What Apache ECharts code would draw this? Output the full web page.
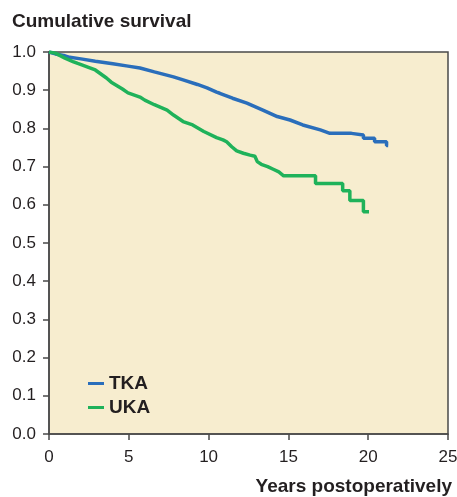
<!DOCTYPE html>
<html>
<head>
<meta charset="utf-8">
<script src="https://cdn.jsdelivr.net/npm/echarts@6/dist/echarts.min.js"></script>
<style>
html,body{margin:0;padding:0;background:#fff;}
#c{width:457px;height:497px;}
</style>
</head>
<body>
<div id="c"></div>
<script>
var xTicks = [0, 5, 10, 15, 20, 25];
var yTicks = [0.0, 0.1, 0.2, 0.3, 0.4, 0.5, 0.6, 0.7, 0.8, 0.9, 1.0];

var tkaYears = [0, 0.4, 1.0, 1.3, 2.0, 2.9, 4.0, 4.95, 5.7, 6.6, 7.8, 8.4, 9.3, 9.9, 10.5, 10.7, 11.5, 12.4, 13.4, 14.3, 15.1, 15.9, 17.0, 17.6, 18.95, 18.95, 19.7, 19.7, 20.4, 20.4, 21.15, 21.15, 21.25];
var tkaSurvival = [1.0, 0.995, 0.990, 0.986, 0.982, 0.976, 0.969, 0.963, 0.958, 0.948, 0.935, 0.927, 0.915, 0.906, 0.895, 0.892, 0.879, 0.866, 0.848, 0.831, 0.822, 0.809, 0.796, 0.787, 0.787, 0.783, 0.783, 0.774, 0.774, 0.765, 0.765, 0.755, 0.755];

var ukaYears = [0, 0.4, 1.0, 1.5, 1.8, 2.6, 2.9, 3.6, 3.9, 4.6, 4.95, 5.7, 6.0, 6.6, 7.4, 7.8, 8.4, 9.0, 9.7, 10.5, 10.9, 11.13, 11.45, 11.76, 12.18, 12.6, 12.9, 13.05, 13.3, 13.7, 14.05, 14.4, 14.7, 16.7, 16.7, 18.4, 18.4, 18.85, 18.85, 19.7, 19.7, 20.05];
var ukaSurvival = [1.0, 0.997, 0.984, 0.975, 0.970, 0.958, 0.953, 0.932, 0.921, 0.903, 0.893, 0.882, 0.874, 0.862, 0.848, 0.835, 0.818, 0.809, 0.792, 0.776, 0.770, 0.765, 0.752, 0.741, 0.735, 0.730, 0.727, 0.713, 0.706, 0.700, 0.693, 0.686, 0.676, 0.676, 0.656, 0.656, 0.637, 0.637, 0.611, 0.611, 0.582, 0.582];

function pairs(xs, ys){ return xs.map(function(x,i){ return [x, ys[i]]; }); }

var chart = echarts.init(document.getElementById('c'), null, {renderer:'canvas'});
var font = 'Liberation Sans, Arial, sans-serif';
chart.setOption({
  animation: false,
  backgroundColor: '#ffffff',
  grid: {left: 49, right: 9, top: 52, bottom: 63, show: true, backgroundColor: '#f7edcf', borderColor: '#4a4a4a', borderWidth: 1.5, outerBoundsMode: 'none', containLabel: false},
  title: [
    {text: 'Cumulative survival', left: 7, top: 7, textStyle: {fontFamily: font, fontSize: 19, fontWeight: 'bold', color: '#231f20'}}
  ],
  graphic: [
    {type: 'text', right: 5, top: 477, style: {text: 'Years postoperatively', font: 'bold 19px Liberation Sans, Arial, sans-serif', fill: '#231f20'}}
  ],
  legend: {
    show: true, orient: 'vertical', left: 83, top: 369, itemGap: 5,
    itemWidth: 16, itemHeight: 3,
    icon: 'rect',
    textStyle: {fontFamily: font, fontSize: 19, fontWeight: 'bold', color: '#231f20'},
    data: ['TKA', 'UKA']
  },
  xAxis: {
    type: 'value', min: 0, max: 25, interval: 5,
    axisLine: {show: true, lineStyle: {color: '#4a4a4a', width: 1.5}},
    axisTick: {show: true, length: 6, lineStyle: {color: '#4a4a4a', width: 1.5}},
    axisLabel: {fontFamily: font, fontSize: 17, color: '#231f20', margin: 15,
      formatter: function(v){ return xTicks.indexOf(v) >= 0 ? String(v) : ''; }},
    splitLine: {show: false}
  },
  yAxis: {
    type: 'value', min: 0, max: 1, interval: 0.1,
    axisLine: {show: true, lineStyle: {color: '#4a4a4a', width: 1.5}},
    axisTick: {show: true, length: 6, lineStyle: {color: '#4a4a4a', width: 1.5}},
    axisLabel: {fontFamily: font, fontSize: 17, color: '#231f20', margin: 13,
      formatter: function(v){ return v.toFixed(1); }},
    splitLine: {show: false}
  },
  series: [
    {name: 'TKA', type: 'line', showSymbol: false, symbol: 'none',
     lineStyle: {color: '#2a6ebb', width: 3.5}, itemStyle: {color: '#2a6ebb'},
     data: pairs(tkaYears, tkaSurvival)},
    {name: 'UKA', type: 'line', showSymbol: false, symbol: 'none',
     lineStyle: {color: '#1fb25a', width: 3.5}, itemStyle: {color: '#1fb25a'},
     data: pairs(ukaYears, ukaSurvival)}
  ]
});
</script>
</body>
</html>
